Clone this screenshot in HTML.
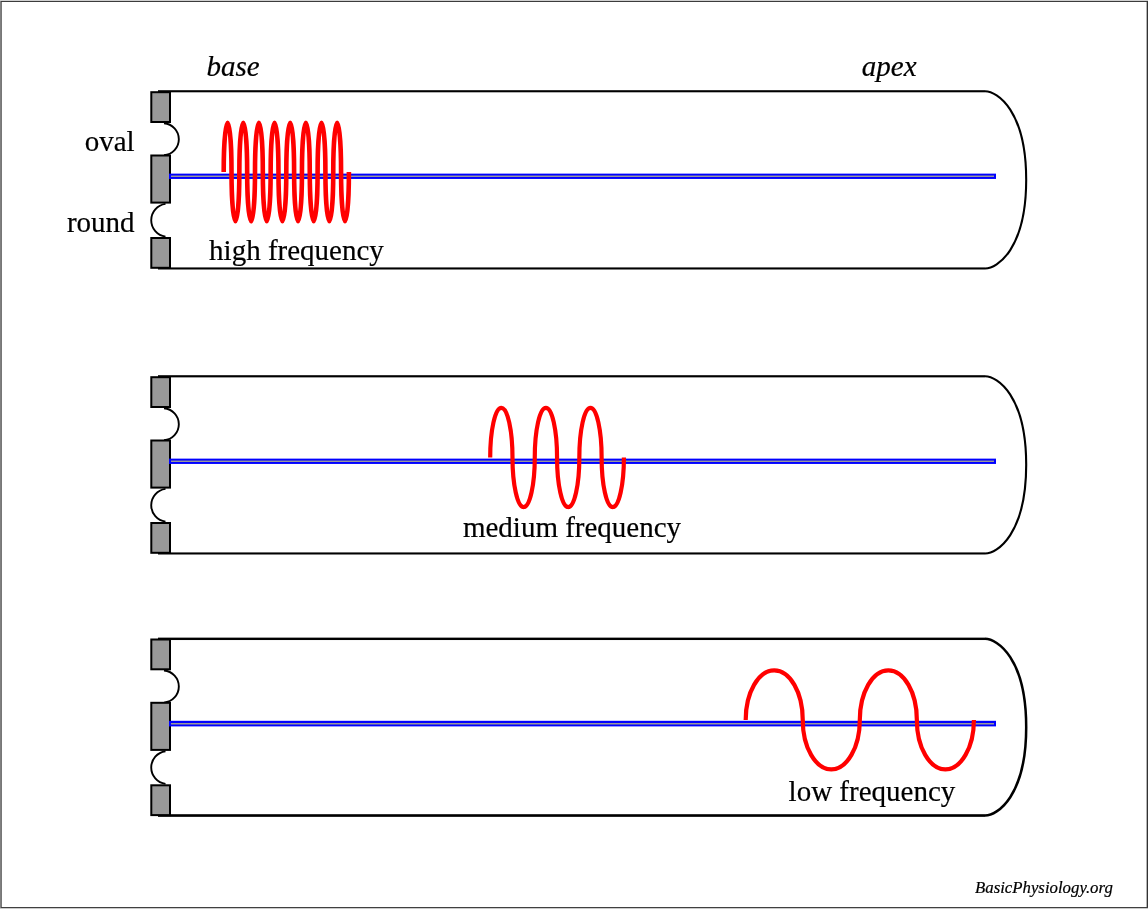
<!DOCTYPE html>
<html><head><meta charset="utf-8"><style>
html,body{margin:0;padding:0;background:#fff;width:1148px;height:909px;overflow:hidden}
svg{display:block;position:absolute;left:0;top:0;will-change:transform}
text{font-family:"Liberation Serif",serif;fill:#000;stroke:#000;stroke-width:0.2px}
</style></head><body>
<svg width="1148" height="909" viewBox="0 0 1148 909">
<rect x="0" y="0" width="1148" height="909" fill="#fff"/>
<rect x="0" y="0" width="1148" height="1" fill="#d0d0d0"/>
<rect x="0" y="908" width="1148" height="1" fill="#cacaca"/>
<rect x="0" y="1" width="1" height="907" fill="#808080"/>
<rect x="1" y="2" width="1" height="905" fill="#777"/>
<rect x="1" y="1" width="1147" height="1" fill="#3c3c3c"/>
<rect x="1146" y="2" width="1" height="905" fill="#b4b4b4"/>
<rect x="1147" y="1" width="1" height="907" fill="#333"/>
<rect x="1" y="907" width="1147" height="1" fill="#404040"/>
<g transform="translate(0,0)">
<rect x="158" y="90.2" width="827" height="2.1" fill="#000"/>
<rect x="158" y="267.42" width="827" height="2.08" fill="#000"/>
<path d="M985,91.25 C997.36,91.25 1026.2,110.74 1026.2,179.86 C1026.2,248.97 997.36,268.46 985,268.46" fill="none" stroke="#000" stroke-width="2.09"/>
<path d="M164,123.2 A16.1,16.1 0 0 1 164,155.3" fill="none" stroke="#000" stroke-width="1.9"/>
<path d="M165.5,203.9 A16.5,16.5 0 0 0 165.5,236.6" fill="none" stroke="#000" stroke-width="1.9"/>
<rect x="151.3" y="92.2" width="18.7" height="29.8" fill="#999" stroke="#000" stroke-width="2"/>
<rect x="151.3" y="155.5" width="18.7" height="47.1" fill="#999" stroke="#000" stroke-width="2"/>
<rect x="151.3" y="238" width="18.7" height="29.8" fill="#999" stroke="#000" stroke-width="2"/>
<rect x="169" y="173.63" width="827" height="5.31" fill="#00f"/>
<rect x="171" y="175.55" width="823" height="1.45" fill="#999"/>
<path d="M223.70,172.00 C223.70,144.88 225.46,122.70 227.61,122.70 C229.76,122.70 231.52,144.88 231.52,172.00 C231.52,199.12 233.29,221.30 235.44,221.30 C237.59,221.30 239.35,199.12 239.35,172.00 C239.35,144.88 241.11,122.70 243.26,122.70 C245.41,122.70 247.17,144.88 247.17,172.00 C247.17,199.12 248.94,221.30 251.09,221.30 C253.24,221.30 255.00,199.12 255.00,172.00 C255.00,144.88 256.76,122.70 258.91,122.70 C261.06,122.70 262.82,144.88 262.82,172.00 C262.82,199.12 264.59,221.30 266.74,221.30 C268.89,221.30 270.65,199.12 270.65,172.00 C270.65,144.88 272.41,122.70 274.56,122.70 C276.71,122.70 278.47,144.88 278.47,172.00 C278.47,199.12 280.24,221.30 282.39,221.30 C284.54,221.30 286.30,199.12 286.30,172.00 C286.30,144.88 288.06,122.70 290.21,122.70 C292.36,122.70 294.12,144.88 294.12,172.00 C294.12,199.12 295.89,221.30 298.04,221.30 C300.19,221.30 301.95,199.12 301.95,172.00 C301.95,144.88 303.71,122.70 305.86,122.70 C308.01,122.70 309.77,144.88 309.77,172.00 C309.77,199.12 311.54,221.30 313.69,221.30 C315.84,221.30 317.60,199.12 317.60,172.00 C317.60,144.88 319.36,122.70 321.51,122.70 C323.66,122.70 325.42,144.88 325.42,172.00 C325.42,199.12 327.19,221.30 329.34,221.30 C331.49,221.30 333.25,199.12 333.25,172.00 C333.25,144.88 335.01,122.70 337.16,122.70 C339.31,122.70 341.07,144.88 341.07,172.00 C341.07,199.12 342.84,221.30 344.99,221.30 C347.14,221.30 348.90,199.12 348.90,172.00" fill="none" stroke="#f00" stroke-width="4.6"/>
</g>
<g transform="translate(0,285.0)">
<rect x="158" y="90.2" width="827" height="2.17" fill="#000"/>
<rect x="158" y="267.42" width="827" height="2.08" fill="#000"/>
<path d="M985,91.28 C997.36,91.28 1026.2,110.77 1026.2,179.87 C1026.2,248.97 997.36,268.46 985,268.46" fill="none" stroke="#000" stroke-width="2.12"/>
<path d="M164,123.2 A16.1,16.1 0 0 1 164,155.3" fill="none" stroke="#000" stroke-width="1.9"/>
<path d="M165.5,203.9 A16.5,16.5 0 0 0 165.5,236.6" fill="none" stroke="#000" stroke-width="1.9"/>
<rect x="151.3" y="92.2" width="18.7" height="29.8" fill="#999" stroke="#000" stroke-width="2"/>
<rect x="151.3" y="155.5" width="18.7" height="47.1" fill="#999" stroke="#000" stroke-width="2"/>
<rect x="151.3" y="238" width="18.7" height="29.8" fill="#999" stroke="#000" stroke-width="2"/>
<rect x="169" y="173.63" width="827" height="5.31" fill="#00f"/>
<rect x="171" y="175.55" width="823" height="1.45" fill="#999"/>
<path d="M490.20,172.45 C490.20,145.06 495.19,122.85 501.34,122.85 C507.50,122.85 512.49,145.06 512.49,172.45 C512.49,199.84 517.47,222.05 523.63,222.05 C529.78,222.05 534.77,199.84 534.77,172.45 C534.77,145.06 539.76,122.85 545.91,122.85 C552.07,122.85 557.05,145.06 557.05,172.45 C557.05,199.84 562.04,222.05 568.20,222.05 C574.35,222.05 579.34,199.84 579.34,172.45 C579.34,145.06 584.33,122.85 590.48,122.85 C596.64,122.85 601.62,145.06 601.62,172.45 C601.62,199.84 606.61,222.05 612.77,222.05 C618.92,222.05 623.91,199.84 623.91,172.45" fill="none" stroke="#f00" stroke-width="4.2"/>
</g>
<g transform="translate(0,547.3)">
<rect x="158" y="90.33" width="827" height="2.4" fill="#000"/>
<rect x="158" y="266.9" width="827" height="2.65" fill="#000"/>
<path d="M985,91.53 C997.36,91.53 1026.2,110.97 1026.2,179.88 C1026.2,248.79 997.36,268.22 985,268.22" fill="none" stroke="#000" stroke-width="2.52"/>
<path d="M164,123.2 A16.1,16.1 0 0 1 164,155.3" fill="none" stroke="#000" stroke-width="1.9"/>
<path d="M165.5,203.9 A16.5,16.5 0 0 0 165.5,236.6" fill="none" stroke="#000" stroke-width="1.9"/>
<rect x="151.3" y="92.2" width="18.7" height="29.8" fill="#999" stroke="#000" stroke-width="2"/>
<rect x="151.3" y="155.5" width="18.7" height="47.1" fill="#999" stroke="#000" stroke-width="2"/>
<rect x="151.3" y="238" width="18.7" height="29.8" fill="#999" stroke="#000" stroke-width="2"/>
<rect x="169" y="173.5" width="827" height="5.6" fill="#00f"/>
<rect x="171" y="175.7" width="823" height="1.5" fill="#999"/>
<path d="M745.70,172.60 C745.70,145.26 758.47,123.10 774.23,123.10 C789.98,123.10 802.75,145.26 802.75,172.60 C802.75,199.94 815.52,222.10 831.27,222.10 C847.03,222.10 859.80,199.94 859.80,172.60 C859.80,145.26 872.57,123.10 888.32,123.10 C904.08,123.10 916.85,145.26 916.85,172.60 C916.85,199.94 929.62,222.10 945.37,222.10 C961.13,222.10 973.90,199.94 973.90,172.60" fill="none" stroke="#f00" stroke-width="4.2"/>
</g>
<text x="206.5" y="75.8" font-style="italic" font-size="29" text-anchor="start">base</text>
<text x="861.8" y="75.8" font-style="italic" font-size="29" text-anchor="start">apex</text>
<text x="134.6" y="150.7" font-style="normal" font-size="29" text-anchor="end">oval</text>
<text x="134.6" y="231.7" font-style="normal" font-size="29" text-anchor="end">round</text>
<text x="209.1" y="259.6" font-style="normal" font-size="29" text-anchor="start">high frequency</text>
<text x="462.9" y="537.2" font-style="normal" font-size="29" text-anchor="start">medium frequency</text>
<text x="788.6" y="801.1" font-style="normal" font-size="29" text-anchor="start">low frequency</text>
<text x="975" y="893" font-style="italic" font-size="16.8" text-anchor="start">BasicPhysiology.org</text>
</svg>
</body></html>
